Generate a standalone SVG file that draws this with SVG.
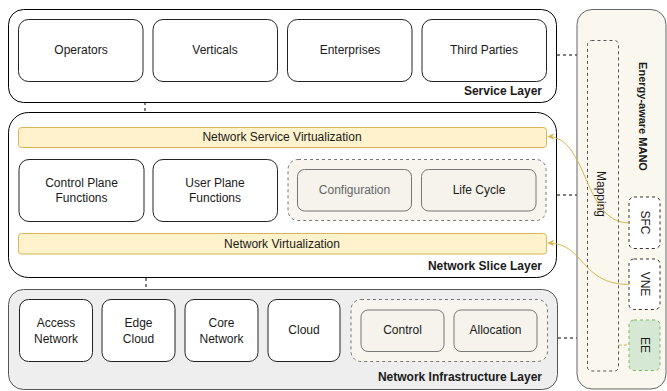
<svg xmlns="http://www.w3.org/2000/svg" width="667" height="391" viewBox="0 0 667 391">
<defs>
<marker id="arr" viewBox="0 0 10 10" refX="9" refY="5" markerWidth="7" markerHeight="7" orient="auto" markerUnits="userSpaceOnUse">
<path d="M0,0 L10,5 L0,10 L3,5 Z" fill="#d6b656"/>
</marker>
<style>
text{font-family:"Liberation Sans",Arial,sans-serif;font-size:12px;fill:#1a1a1a;text-anchor:middle}
.lbl{font-weight:bold;text-anchor:end}
.layer{fill:#fff;stroke:#000;stroke-width:1}
.box{fill:#fff;stroke:#222;stroke-width:1}
.grp{fill:#f7f5ee;stroke:#777;stroke-width:1;stroke-dasharray:3 3}
.sub{fill:#f5f3ec;stroke:#777;stroke-width:1}
.bar{fill:#fff2cc;stroke:#d6b656;stroke-width:1}
.dash{fill:none;stroke:#000;stroke-width:1;stroke-dasharray:3 3}
.curve{fill:none;stroke:#d6b656;stroke-width:1}
</style>
</defs>

<g id="connectors">
<line class="dash" x1="145" y1="102" x2="145" y2="112"/>
<line class="dash" x1="146" y1="278" x2="146" y2="289"/>
<line class="dash" x1="557" y1="55" x2="577" y2="55"/>
<line class="dash" x1="557" y1="195" x2="577" y2="195"/>
<line class="dash" x1="558" y1="338" x2="577" y2="338"/>
<line class="dash" x1="93" y1="330" x2="102" y2="330"/>
<line class="dash" x1="175" y1="330" x2="185" y2="330"/>
<line class="dash" x1="258" y1="330" x2="268" y2="330"/>
</g>

<g id="service-layer">
<rect class="layer" x="8.5" y="9.5" width="548" height="93" rx="15"/>
<text class="lbl" x="542" y="95">Service Layer</text>
</g>
<g id="operators"><rect class="box" x="18.5" y="19.5" width="124.5" height="62" rx="10"/><text x="81" y="54">Operators</text></g>
<g id="verticals"><rect class="box" x="153" y="19.5" width="124.5" height="62" rx="10"/><text x="215" y="54">Verticals</text></g>
<g id="enterprises"><rect class="box" x="287.5" y="19.5" width="124.5" height="62" rx="10"/><text x="350" y="54">Enterprises</text></g>
<g id="third-parties"><rect class="box" x="422" y="19.5" width="124.5" height="62" rx="10"/><text x="484" y="54">Third Parties</text></g>

<g id="slice-layer">
<rect class="layer" x="8.5" y="112.5" width="548" height="165" rx="20"/>
<text class="lbl" x="542" y="270">Network Slice Layer</text>
</g>
<g id="nsv"><rect class="bar" x="18.5" y="127.5" width="528" height="20" rx="3"/><text x="282" y="141">Network Service Virtualization</text></g>
<g id="cpf"><rect class="box" x="19" y="159.5" width="125" height="62" rx="10"/><text x="81.5" y="187">Control Plane</text><text x="81.5" y="201.5">Functions</text></g>
<g id="upf"><rect class="box" x="153" y="159.5" width="124.5" height="62" rx="10"/><text x="215" y="187">User Plane</text><text x="215" y="201.5">Functions</text></g>
<g id="slice-mgmt">
<rect class="grp" x="288" y="159.5" width="258" height="61" rx="10"/>
</g>
<g id="configuration"><rect class="sub" x="297.5" y="169.5" width="114" height="41.5" rx="7"/><text x="354.5" y="194" style="fill:#666">Configuration</text></g>
<g id="life-cycle"><rect class="sub" x="421.5" y="169.5" width="114.5" height="41.5" rx="7"/><text x="479" y="194">Life Cycle</text></g>
<g id="nv"><rect class="bar" x="18.5" y="233.5" width="528" height="20.5" rx="3"/><text x="282" y="247.5">Network Virtualization</text></g>

<g id="infra-layer">
<rect x="8.5" y="289.5" width="549" height="100" rx="15" style="fill:#eeeeee;stroke:#555;stroke-width:1"/>
<text class="lbl" x="542" y="381">Network Infrastructure Layer</text>
</g>
<g id="access-network"><rect class="box" x="19.5" y="299.5" width="73" height="62" rx="9"/><text x="56" y="327">Access</text><text x="56" y="342.5">Network</text></g>
<g id="edge-cloud"><rect class="box" x="102" y="299.5" width="73" height="62" rx="9"/><text x="138.5" y="327">Edge</text><text x="138.5" y="342.5">Cloud</text></g>
<g id="core-network"><rect class="box" x="185" y="299.5" width="73" height="62" rx="9"/><text x="221.5" y="327">Core</text><text x="221.5" y="342.5">Network</text></g>
<g id="cloud"><rect class="box" x="268" y="299.5" width="72" height="62" rx="9"/><text x="304" y="334">Cloud</text></g>
<g id="infra-mgmt"><rect class="grp" x="351" y="299.5" width="196.5" height="62" rx="10"/></g>
<g id="control"><rect class="sub" x="361" y="310" width="83" height="41.5" rx="7"/><text x="402.5" y="334">Control</text></g>
<g id="allocation"><rect class="sub" x="454" y="310" width="83" height="41.5" rx="7"/><text x="495.5" y="334">Allocation</text></g>

<g id="mano">
<rect x="577" y="9.5" width="89" height="379.5" rx="15" style="fill:#f9f7ee;stroke:#666;stroke-width:1"/>
<text transform="translate(639,116.5) rotate(90)" style="font-weight:bold;font-size:11px">Energy-aware MANO</text>
</g>
<g id="mapping">
<rect x="587.5" y="40.5" width="31" height="330.5" rx="4" style="fill:none;stroke:#555;stroke-dasharray:3 3"/>
<text transform="translate(597,194) rotate(90)">Mapping</text>
</g>
<g id="sfc"><rect x="629" y="197" width="31" height="51.5" rx="5" style="fill:#fff;stroke:#333;stroke-dasharray:3 3"/><text transform="translate(641,222.5) rotate(90)">SFC</text></g>
<g id="vne"><rect x="629" y="259" width="31" height="50.5" rx="5" style="fill:#fff;stroke:#333;stroke-dasharray:3 3"/><text transform="translate(641,284) rotate(90)">VNE</text></g>
<g id="ee"><rect x="629" y="320" width="31" height="50.5" rx="5" style="fill:#d5e8d4;stroke:#82b366;stroke-dasharray:3 3"/><text transform="translate(641,345) rotate(90)">EE</text></g>

<g id="mano-connectors">
<path class="curve" d="M629,223 C583,223 588,136.5 548,136.5" marker-end="url(#arr)"/>
<path class="curve" d="M629,284.5 C580,284.5 585,243 548,243" marker-end="url(#arr)"/>
<line class="curve" x1="619" y1="345" x2="629" y2="345" style="stroke-dasharray:3 2"/>
</g>
</svg>
